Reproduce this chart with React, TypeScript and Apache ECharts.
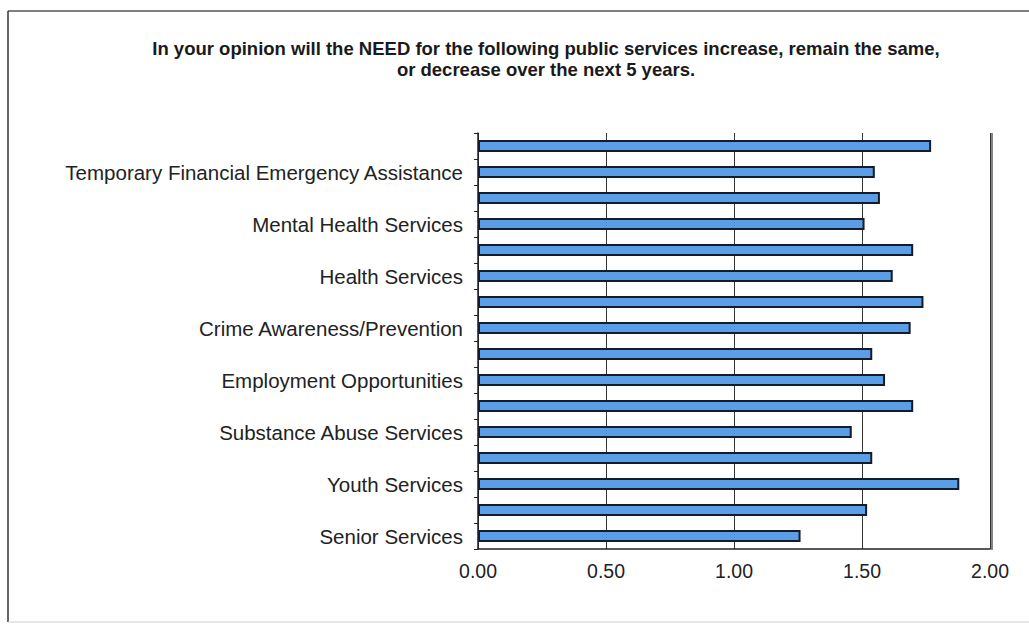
import React, { useEffect, useRef } from "react";
import * as echarts from "echarts";

// Categories from bottom to top; every other bar has no printed label in the source
const categories: string[] = [
  "Senior Services",
  "(unlabeled 1)",
  "Youth Services",
  "(unlabeled 2)",
  "Substance Abuse Services",
  "(unlabeled 3)",
  "Employment Opportunities",
  "(unlabeled 4)",
  "Crime Awareness/Prevention",
  "(unlabeled 5)",
  "Health Services",
  "(unlabeled 6)",
  "Mental Health Services",
  "(unlabeled 7)",
  "Temporary Financial Emergency Assistance",
  "(unlabeled 8)",
];

const values: number[] = [
  1.26, 1.52, 1.88, 1.54, 1.46, 1.7, 1.59, 1.54, 1.69, 1.74, 1.62, 1.7, 1.51, 1.57, 1.55, 1.77,
];

const titleLines: string[] = [
  "In your opinion will the NEED for the following public services increase, remain the same,",
  "or decrease over the next 5 years.",
];

const xMin = 0;
const xMax = 2;
const xInterval = 0.5;

export default function App() {
  const ref = useRef<HTMLDivElement>(null);

  useEffect(() => {
    if (!ref.current) return;
    const chart = echarts.init(ref.current, undefined, { renderer: "svg" });
    chart.setOption({
      animation: false,
      backgroundColor: "#ffffff",
      title: {
        text: titleLines.join("\n"),
        left: 541,
        top: 33,
        textAlign: "center",
        textStyle: {
          fontFamily: "Liberation Sans, Arial, sans-serif",
          fontSize: 18.5,
          fontWeight: "bold",
          color: "#1a1a1a",
          lineHeight: 21,
        },
      },
      graphic: [
        { type: "line", shape: { x1: 8, y1: 11, x2: 1029, y2: 11 }, style: { stroke: "#555", lineWidth: 1.5 } },
        { type: "line", shape: { x1: 8, y1: 11, x2: 8, y2: 622 }, style: { stroke: "#333", lineWidth: 1.5 } },
        { type: "line", shape: { x1: 8, y1: 622, x2: 1029, y2: 622 }, style: { stroke: "#cfcfcf", lineWidth: 1 } },
        { type: "line", shape: { x1: 992, y1: 133, x2: 992, y2: 550 }, style: { stroke: "#333", lineWidth: 1.2 } },
      ],
      grid: { left: 478, right: 39, top: 133, bottom: 76, containLabel: false },
      xAxis: {
        type: "value",
        min: xMin,
        max: xMax,
        interval: xInterval,
        axisLine: { show: true, lineStyle: { color: "#222", width: 1.5 } },
        axisTick: { show: false },
        splitLine: { show: true, lineStyle: { color: "#333", width: 1 } },
        axisLabel: {
          formatter: (v: number) => v.toFixed(2),
          fontFamily: "Liberation Sans, Arial, sans-serif",
          fontSize: 19.5,
          color: "#222",
          margin: 12,
        },
      },
      yAxis: {
        type: "category",
        data: categories,
        axisLine: { show: true, lineStyle: { color: "#222", width: 1.5 } },
        axisTick: { show: true, interval: 0, length: 4, lineStyle: { color: "#222" } },
        axisLabel: {
          interval: 1,
          fontFamily: "Liberation Sans, Arial, sans-serif",
          fontSize: 20.5,
          color: "#222",
          margin: 15,
        },
      },
      series: [
        {
          type: "bar",
          data: values,
          barWidth: 12,
          itemStyle: {
            color: "#5b9de6",
            borderColor: "#141c29",
            borderWidth: 2,
          },
        },
      ],
    });
    return () => chart.dispose();
  }, []);

  return (
    <div
      ref={ref}
      style={{ position: "fixed", left: 0, top: 0, width: 1029, height: 625 }}
    />
  );
}
